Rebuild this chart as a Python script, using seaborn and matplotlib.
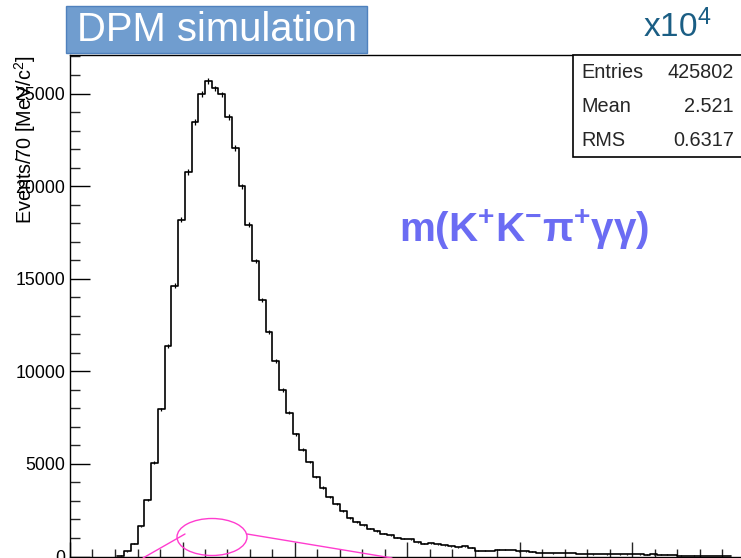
import numpy as np
import pandas as pd
import matplotlib
matplotlib.use("Agg")
import matplotlib.pyplot as plt
import seaborn as sns
from matplotlib.patches import Rectangle, Ellipse
from matplotlib.lines import Line2D

# ---------------- data ----------------
x_start = 1.0          # axis start (arbitrary units)
bin_width = 0.06
first_bin = 7          # index of first non-empty bin
counts = [50, 270, 700, 1620, 3070, 5070, 7950, 11360, 14630, 18180,
          20760, 23470, 24980, 25700, 25270, 24950, 23740, 22060, 19980, 17910,
          15960, 13850, 12140, 10550, 8980, 7760, 6590, 5770, 5100, 4290,
          3720, 3210, 2850, 2450, 2090, 1860, 1680, 1500, 1370, 1230,
          1140, 1010, 960, 930, 770, 690, 720, 650, 600, 560,
          500, 540, 470, 320, 310, 300, 360, 360, 350, 280,
          270, 260, 190, 180, 170, 180, 200, 190, 130, 120,
          110, 120, 115, 120, 110, 110, 120, 115, 100, 110,
          105, 100, 90, 50, 45, 50, 40, 45, 40, 35, 10]
y_ticks = [0, 5000, 10000, 15000, 20000, 25000]
stats_labels = ["Entries", "Mean", "RMS"]
stats_values = ["425802", "2.521", "0.6317"]
title_text = "DPM simulation"
scale_text = r"x10$^{4}$"
mass_label = r"$\mathbf{m(K^{+}K^{-}\pi^{+}\gamma\gamma)}$"
y_label = r"Events/70 [MeV/c$^{2}$]"

counts = np.array(counts, dtype=float)
edges = x_start + bin_width * (first_bin + np.arange(len(counts) + 1))
centers = 0.5 * (edges[:-1] + edges[1:])
df = pd.DataFrame({"x": centers, "w": counts})

# ---------------- style ----------------
sns.set_style("white")
plt.rcParams["font.family"] = ["Liberation Sans", "DejaVu Sans"]
plt.rcParams["mathtext.fontset"] = "custom"
plt.rcParams["mathtext.rm"] = "Liberation Sans"
plt.rcParams["mathtext.it"] = "Liberation Sans:italic"
plt.rcParams["mathtext.bf"] = "Liberation Sans:bold"
plt.rcParams["mathtext.sf"] = "Liberation Sans"

W, H = 741, 558
fig = plt.figure(figsize=(W / 100, H / 100), dpi=100)

def fx(px):
    return px / W

def fy(py):
    return (H - py) / H

ax_left, ax_right, ax_top, ax_bot = 70, 760, 55, 556.5
ax = fig.add_axes([fx(ax_left), fy(ax_bot), fx(ax_right - ax_left), (ax_bot - ax_top) / H])

sns.histplot(data=df, x="x", weights="w", binwidth=bin_width,
             binrange=(float(edges[0]), float(edges[-1])), element="step", fill=False,
             color="black", linewidth=1.2, ax=ax)
ax.errorbar(centers, counts, yerr=np.sqrt(counts), fmt="none", ecolor="black",
            elinewidth=0.9, capsize=0)

px_per_unit = 112.5
ax.set_xlim(x_start, x_start + (ax_right - ax_left) / px_per_unit)
ax.set_ylim(0, 5000 * (ax_bot - ax_top) / 92.6)

ax.set_xticks(np.arange(1, 8, 1))
ax.set_xticks(np.arange(1, 7.2, 0.2), minor=True)
ax.set_xticklabels([])
ax.set_yticks(y_ticks)
ax.set_yticklabels([str(v) for v in y_ticks])
ax.set_yticks(np.arange(0, 27001, 1000), minor=True)
ax.tick_params(axis="y", which="major", direction="in", length=14.4, width=1.0,
               pad=3.5, labelsize=12.8, left=True, colors="black")
ax.tick_params(axis="y", which="minor", direction="in", length=7.2, width=1.0, left=True)
ax.tick_params(axis="x", which="major", direction="in", length=10.8, width=1.0, bottom=True)
ax.tick_params(axis="x", which="minor", direction="in", length=5.5, width=1.0, bottom=True)
ax.set_xlabel("")
ax.set_ylabel("")
for s in ["left", "bottom", "top"]:
    ax.spines[s].set_visible(True)
    ax.spines[s].set_color("black")
    ax.spines[s].set_linewidth(1.0)
ax.spines["right"].set_visible(False)
ax.grid(False)

# y-axis title
fig.text(fx(25), fy(55), y_label, rotation=90, ha="center", va="top",
         fontsize=14.3, color="black")

# title box
fig.patches.append(Rectangle((fx(66), fy(53)), fx(367 - 66), (53 - 6) / H,
                             transform=fig.transFigure, facecolor="#709dcf",
                             edgecolor="#4f81bd", linewidth=1.0, zorder=5))
fig.text(fx(217), fy(30), title_text, ha="center", va="center", fontsize=28.8,
         color="white", zorder=6)

# x10^4
fig.text(fx(677), fy(27), scale_text, ha="center", va="center", fontsize=24,
         color="#1b5e84")

# stats box
fig.patches.append(Rectangle((fx(573), fy(157)), fx(760 - 573), (157 - 55) / H,
                             transform=fig.transFigure, facecolor="white",
                             edgecolor="black", linewidth=1.2, zorder=5))
for i, (lab, val) in enumerate(zip(stats_labels, stats_values)):
    yy = fy(73 + 34 * i)
    fig.text(fx(581), yy, lab, ha="left", va="center", fontsize=14.3, zorder=6)
    fig.text(fx(734), yy, val, ha="right", va="center", fontsize=14.3, zorder=6)

# mass label
fig.text(fx(524), fy(230), mass_label, ha="center", va="center", fontsize=29,
         color="#6b6cf3")

# pink annotation
pink = "#ff3ccf"
fig.patches.append(Ellipse((fx(212), fy(537)), fx(70), 37 / H, transform=fig.transFigure,
                           fill=False, edgecolor=pink, linewidth=1.0, zorder=6))
fig.lines.append(Line2D([fx(143), fx(185)], [fy(558), fy(534)], transform=fig.transFigure,
                        color=pink, linewidth=1.0, zorder=6))
fig.lines.append(Line2D([fx(247), fx(392)], [fy(534), fy(558)], transform=fig.transFigure,
                        color=pink, linewidth=1.0, zorder=6))

fig.savefig("out.png", dpi=100)
